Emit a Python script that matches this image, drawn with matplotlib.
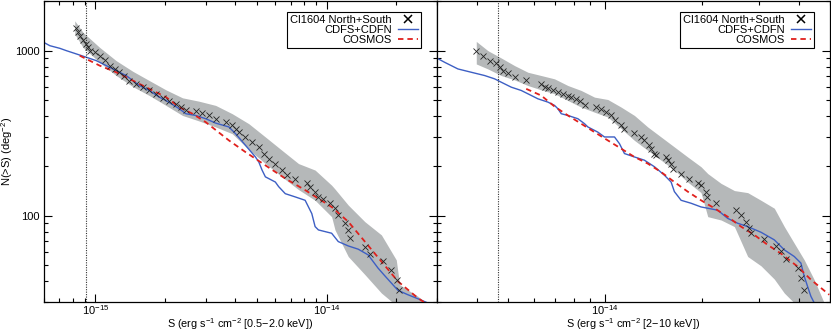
import matplotlib
matplotlib.use("Agg")
import matplotlib.pyplot as plt
from matplotlib.ticker import LogLocator, NullFormatter, FixedLocator, FixedFormatter

plt.rcParams['font.family'] = ['Liberation Sans', 'DejaVu Sans']
plt.rcParams['mathtext.fontset'] = 'custom'
plt.rcParams['mathtext.rm'] = 'Liberation Sans'
plt.rcParams['mathtext.it'] = 'Liberation Sans:italic'
plt.rcParams['mathtext.bf'] = 'Liberation Sans:bold'

# fluxes in units of 1e-15 erg/s/cm^2, N in deg^-2
# --- soft band (0.5-2 keV) ---
soft_cl_s = [0.823, 0.842, 0.862, 0.885, 0.909, 0.930, 0.945, 0.993, 1.044, 1.097, 1.152, 1.211,
             1.272, 1.337, 1.405, 1.501, 1.603, 1.712, 1.829, 1.954, 2.087, 2.229, 2.343, 2.462,
             2.718, 2.904, 3.101, 3.313, 3.658, 3.907, 4.038, 4.173, 4.459, 4.763, 5.088, 5.346,
             5.617, 6.001, 6.410, 6.735, 7.313, 8.209, 8.484, 8.916, 9.215, 9.683, 10.34, 10.87,
             11.23, 12.0, 12.40, 12.61, 14.63, 15.37, 17.54, 19.04, 20.2, 20.5]
soft_cl_n = [1370, 1290, 1232, 1160, 1097, 1047, 1000, 977, 933, 878, 812, 775,
             740, 707, 659, 629, 606, 574, 548, 518, 494, 472, 455, 438,
             434, 418, 405, 387, 369, 353, 337, 321, 300, 280, 261, 238,
             222, 207, 189, 176, 168, 157, 150, 140, 130, 127, 119, 111,
             101, 90, 82, 73, 65, 59, 53, 47, 41, 35.6]
soft_band_s = [0.815, 0.885, 1.044, 1.231, 1.452, 1.712, 2.020, 2.382, 2.809, 3.313, 3.907, 4.608,
               5.435, 6.410, 7.558, 8.916, 10.51, 10.87, 12.40, 14.63, 17.25, 20.0, 20.68, 24.80, 28.3]
soft_band_hi = [1517, 1290, 1047, 870, 750, 659, 579, 518, 494, 466, 415, 361,
                300, 249, 207, 189, 153, 145, 116, 92, 76.5, 54, 38.2, 32.5, 28]
soft_band_lo = [1260, 1047, 850, 707, 606, 535, 466, 405, 375, 345, 314, 252,
                207, 172, 144, 124, 98.6, 82, 56.6, 44, 34, 28.6, 28, 23.5, 21.4]
soft_cdfs_s = [0.598, 0.636, 0.703, 0.750, 0.829, 0.915, 1.010, 1.115, 1.231, 1.359, 1.452, 1.551,
               1.712, 1.891, 2.020, 2.305, 2.462, 2.718, 3.001, 3.313, 3.780, 4.038, 4.459, 4.923,
               5.088, 5.258, 5.435, 6.001, 6.203, 6.625, 7.313, 8.074, 8.627, 8.916, 9.215, 10.51,
               11.23, 12.40, 13.69, 15.12, 16.69, 17.83, 19.04, 20.34, 22.46, 24.80, 27.38]
soft_cdfs_n = [1123, 1072, 1033, 1000, 955, 912, 870, 812, 757, 707, 659, 615,
               574, 523, 499, 445, 415, 405, 387, 364, 345, 314, 267, 227,
               212, 189, 172, 160, 150, 136, 130, 124, 103, 85.9, 82, 78.3,
               69.7, 65.6, 62.7, 57.9, 48.1, 43.3, 39.1, 35.3, 33.2, 31.4, 29.6]
soft_cosmos_s = [0.856, 1.044, 1.231, 1.452, 1.712, 2.020, 2.305, 2.630, 3.001, 3.780, 4.459,
                 5.435, 6.625, 8.074, 9.215, 10.51, 12.40, 14.63, 17.25, 20.34, 24.80, 27.38]
soft_cosmos_n = [933, 812, 740, 659, 587, 523, 455, 415, 369, 286, 243,
                 202, 168, 143, 127, 113, 92, 69.7, 52.8, 40, 31.7, 28.9]
soft_limit = 0.91

# --- hard band (2-10 keV) ---
hard_cl_s = [3.955, 4.169, 4.372, 4.585, 4.695, 4.81, 4.985, 5.228, 5.682, 6.326, 6.479, 6.635,
             6.877, 7.128, 7.387, 7.656, 7.840, 8.125, 8.322, 8.624, 9.374, 9.716, 10.07, 10.43,
             10.69, 11.21, 11.48, 12.33, 12.93, 13.24, 13.73, 13.89, 14.23, 14.40, 15.46, 15.65,
             16.03, 16.22, 17.22, 18.27, 19.40, 19.86, 20.59, 20.7, 22.11, 25.52, 26.44, 27.41,
             28.07, 28.41, 31.24, 33.95, 35.19, 36.48, 39.65, 40.6, 41.58]
hard_cl_n = [1000, 933, 862, 839, 801, 757, 730, 697, 665, 629, 606, 595,
             579, 561, 548, 535, 523, 511, 499, 466, 455, 445, 424, 405,
             378, 353, 337, 317, 300, 286, 267, 255, 238, 232, 227, 217,
             207, 193, 180, 168, 158, 153, 140, 130, 119, 108, 101, 92,
             83.9, 78.3, 72, 65.6, 60.7, 54.5, 48.1, 41.9, 35.6]
hard_band_s = [3.974, 4.32, 4.752, 5.228, 5.751, 6.326, 6.959, 7.656, 8.421, 9.264, 10.19, 11.21,
               12.33, 13.56, 14.92, 16.41, 18.05, 19.86, 20.84, 22.92, 25.22, 27.74, 30.51, 33.56,
               36.05, 38.71, 41.58, 44.67, 47.97]
hard_band_hi = [1138, 1000, 903, 812, 740, 707, 675, 615, 574, 523, 506, 455,
                405, 345, 300, 261, 227, 198, 180, 157, 142, 138, 124, 111,
                85.9, 68.1, 54, 40.9, 29.6]
hard_band_lo = [831, 775, 707, 665, 615, 579, 548, 499, 455, 424, 396, 337,
                286, 249, 217, 189, 160, 138, 98.7, 94.2, 85.9, 56.6, 49.7, 41.3,
                34, 29.6, 25.7, 23.5, 21.4]
hard_cdfs_s = [2.992, 3.17, 3.485, 3.834, 4.218, 4.531, 4.752, 5.105, 5.483, 5.751, 6.177, 6.635,
               6.959, 7.128, 7.3, 7.656, 8.224, 8.624, 8.834, 9.486, 9.95, 10.69, 11.08, 11.48,
               12.33, 13.24, 14.23, 15.28, 16.03, 16.41, 17.22, 18.49, 19.86, 20.84, 22.38, 24.03,
               25.82, 27.74, 30.51, 33.56, 36.05, 38.71, 40.6, 41.58, 42.58, 43.6, 44.67]
hard_cdfs_n = [903, 850, 775, 740, 707, 675, 644, 601, 574, 548, 511, 488,
               466, 445, 415, 405, 387, 361, 345, 321, 300, 300, 273, 238,
               227, 217, 198, 176, 160, 140, 124, 119, 113, 111, 108, 96.4,
               90, 85.9, 79.4, 71.4, 62.1, 56.6, 51.6, 42.9, 37.3, 32.5, 29.6]
hard_cosmos_s = [5.682, 6.326, 6.959, 7.656, 8.421, 9.264, 10.19, 11.21, 12.33, 13.56, 14.92, 16.41,
                 18.05, 19.86, 21.85, 24.03, 26.44, 29.09, 31.99, 35.19, 39.65, 43.6, 49.73]
hard_cosmos_n = [587, 535, 459, 405, 361, 321, 286, 255, 227, 207, 184, 160,
                 140, 124, 111, 98.6, 85.9, 76.5, 66.6, 59, 49.2, 41, 33.2]
hard_limit = 4.65

BAND = "#b5b8b9"
BLUE = "#3d5fc4"
RED = "#e0201c"


def scale(xs):
    return [x * 1e-15 for x in xs]


def panel(ax, cl_s, cl_n, band_s, band_hi, band_lo, cdfs_s, cdfs_n, cos_s, cos_n, limit,
          xlim, xticks, xlabels, xlabel, show_y):
    ax.fill_between(scale(band_s), band_lo, band_hi, color=BAND, lw=0, zorder=1)
    ax.plot(scale(cdfs_s), cdfs_n, color=BLUE, lw=1.0, zorder=2, label="CDFS+CDFN")
    ax.plot(scale(cos_s), cos_n, color=RED, lw=1.3, ls=(0, (3, 2.2)), zorder=3, label="COSMOS")
    ax.plot(scale(cl_s), cl_n, ls="none", marker="x", ms=4.8, mew=0.6, color="#222222",
            zorder=4, label="Cl1604 North+South")
    ax.axvline(limit * 1e-15, color="#333333", ls=(0, (1, 1.2)), lw=0.8, zorder=5)
    ax.set_xscale("log"); ax.set_yscale("log")
    ax.set_xlim(*xlim); ax.set_ylim(30, 2000)
    ax.xaxis.set_major_locator(FixedLocator(xticks))
    ax.xaxis.set_major_formatter(FixedFormatter(xlabels))
    ax.xaxis.set_minor_locator(LogLocator(base=10, subs=range(2, 10), numticks=20))
    ax.xaxis.set_minor_formatter(NullFormatter())
    ax.yaxis.set_major_locator(FixedLocator([100, 1000]))
    ax.yaxis.set_minor_locator(LogLocator(base=10, subs=range(2, 10), numticks=20))
    ax.yaxis.set_minor_formatter(NullFormatter())
    if show_y:
        ax.yaxis.set_major_formatter(FixedFormatter(["100", "1000"]))
        ax.set_ylabel(r"N(>S) (deg$^{-2}$)", fontsize=8)
        ax.yaxis.set_label_coords(-0.075, 0.5)
    else:
        ax.yaxis.set_major_formatter(NullFormatter())
    ax.tick_params(which="both", direction="in", top=True, right=True, labelsize=8, width=0.8)
    ax.tick_params(which="major", length=6, pad=3)
    ax.tick_params(which="minor", length=3)
    ax.tick_params(axis="x", which="major", pad=1)
    for sp in ax.spines.values():
        sp.set_linewidth(0.9)
    ax.set_xlabel(xlabel, fontsize=7.8)
    ax.xaxis.set_label_coords(0.5, -0.046)
    # legend: labels right-aligned, handles on the right
    h, l = ax.get_legend_handles_labels()
    order = [2, 0, 1]
    leg = ax.legend([h[i] for i in order], [l[i] for i in order], loc="upper right",
                    bbox_to_anchor=(1 - 16 / 393, 1 - 11 / 301), borderaxespad=0,
                    markerfirst=False, fontsize=8, labelspacing=0.0, handlelength=1.8,
                    handletextpad=0.6, borderpad=0.25, fancybox=False, framealpha=1,
                    edgecolor="black")
    leg.get_frame().set_linewidth(0.8)
    leg.legend_handles[0].set_markersize(6)
    leg.legend_handles[0].set_markeredgewidth(1.1)
    leg.legend_handles[0].set_color("black")


fig = plt.figure(figsize=(8.31, 3.31), dpi=100)
ax1 = fig.add_axes([44 / 831, 29 / 331, 393 / 831, 301 / 331])
ax2 = fig.add_axes([437 / 831, 29 / 331, 393 / 831, 301 / 331])

panel(ax1, soft_cl_s, soft_cl_n, soft_band_s, soft_band_hi, soft_band_lo,
      soft_cdfs_s, soft_cdfs_n, soft_cosmos_s, soft_cosmos_n, soft_limit,
      (6e-16, 3e-14), [1e-15, 1e-14], [r"10$^{-15}$", r"10$^{-14}$"],
      r"S (erg s$^{-1}$ cm$^{-2}$ [0.5$-$2.0 keV])", True)
panel(ax2, hard_cl_s, hard_cl_n, hard_band_s, hard_band_hi, hard_band_lo,
      hard_cdfs_s, hard_cdfs_n, hard_cosmos_s, hard_cosmos_n, hard_limit,
      (3e-15, 5e-14), [1e-14], [r"10$^{-14}$"],
      r"S (erg s$^{-1}$ cm$^{-2}$ [2$-$10 keV])", False)

fig.savefig("out.png", dpi=100)
